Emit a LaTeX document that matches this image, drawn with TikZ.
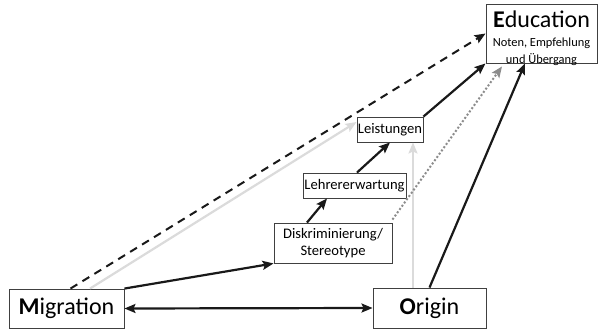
\documentclass[tikz,border=0pt]{standalone}
\usepackage{fontspec}
\setmainfont{Carlito}
\usetikzlibrary{arrows.meta,calc}
\begin{document}
\begin{tikzpicture}[x=1pt,y=1pt,
  box/.style={draw=black!75, line width=0.9pt, fill=white, inner sep=0pt, align=center},
  big/.style={font=\fontsize{24}{26}\selectfont},
  small/.style={font=\fontsize{14.6}{17}\selectfont},
  edufont/.style={font=\fontsize{12.4}{15}\selectfont, align=center, inner sep=0pt},
  blk/.style={line width=2.2pt, draw=black!90, -{Stealth[length=11pt,width=9pt,inset=2pt]}},
  lgray/.style={line width=2.2pt, draw=black!14, -{Stealth[length=11pt,width=9pt,inset=2pt]}},
  dgray/.style={line width=2pt, draw=black!45, dotted, -{Stealth[length=11pt,width=9pt,inset=2pt]}},
  dsh/.style={line width=2pt, draw=black!90, dash pattern=on 8pt off 6pt, -{Stealth[length=11pt,width=9pt,inset=2pt]}}
]
\useasboundingbox (0,0) rectangle (598,333);
\node[box, big, minimum width=115pt, minimum height=39pt] (mig) at (66.5,24.5) {\textbf{M}igration};
\node[box, big, minimum width=113pt, minimum height=40pt] (ori) at (429.5,25) {\textbf{O}rigin};
\node[box, minimum width=111pt, minimum height=59pt] (edu) at (541.5,299.5) {};
\node[edufont] (edutxt) at (541.5,295)
  {{\fontsize{24}{24}\selectfont\textbf{E}ducation}\\[4.5pt]Noten, Empfehlung\\[1.5pt]und Übergang};
\node[box, small, minimum width=66pt, minimum height=25pt] (lei) at (390,203.5) {Leistungen};
\node[box, small, minimum width=103pt, minimum height=25pt] (leh) at (354.5,147.5) {Lehrererwartung};
\node[box, small, minimum width=118pt, minimum height=40pt] (dis) at (333,90) {Diskriminierung/\\Stereotype};

\coordinate (oa) at ([xshift=-16.5pt]ori.north);
% connectors
\draw[dsh] ([xshift=4pt]mig.north) -- (edu.west);
\draw[lgray] ([xshift=23.5pt]mig.north) -- ([yshift=7.5pt]lei.west);
\draw[lgray] (oa) -- (oa |- lei.south);
\draw[dgray] ([yshift=3pt]dis.north east) -- ([xshift=-39.5pt,yshift=-3pt]edu.south);
\draw[blk] (ori.north) -- ([xshift=-16.5pt]edu.south);
\draw[blk] (mig.north east) -- (dis.south west);
\draw[blk] ([xshift=-26pt]dis.north) -- ([xshift=-27.5pt]leh.south);
\draw[blk] ([xshift=2.5pt]leh.north) -- (lei.south);
\draw[blk] (lei.north east) -- (edu.south west);
\draw[line width=2.2pt, draw=black!90, {Stealth[length=11pt,width=9pt,inset=2pt]}-{Stealth[length=11pt,width=9pt,inset=2pt]}] (mig.east) -- (ori.west);
\end{tikzpicture}
\end{document}
